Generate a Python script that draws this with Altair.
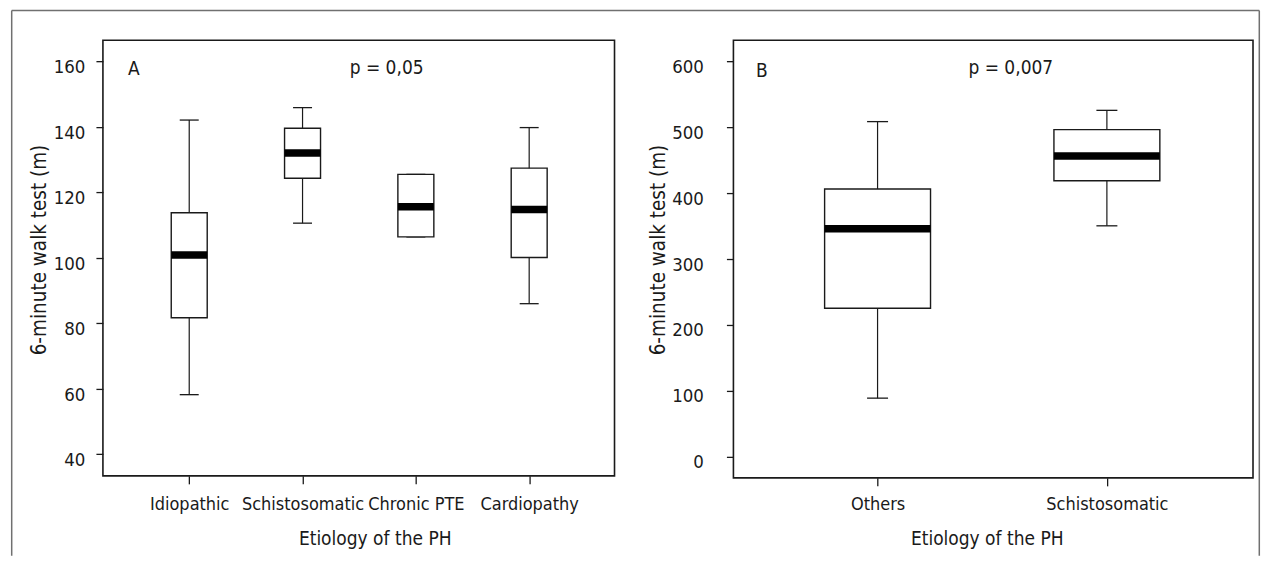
import json
import altair as alt
import pandas as pd

# ---------------- data ----------------
# Panel A
cats_a = ["Idiopathic", "Schistosomatic", "Chronic PTE", "Cardiopathy"]
low_a = [58.2, 110.6, 106.4, 86.0]
q1_a = [81.7, 124.3, 106.4, 100.1]
med_a = [100.9, 132.0, 115.6, 114.8]
q3_a = [113.8, 139.6, 125.5, 127.4]
high_a = [142.1, 145.9, 125.5, 139.8]
yticks_a = [40, 60, 80, 100, 120, 140, 160]

# Panel B
cats_b = ["Others", "Schistosomatic"]
low_b = [88.8, 350.4]
q1_b = [225.3, 418.9]
med_b = [345.9, 456.5]
q3_b = [406.2, 496.4]
high_b = [508.6, 525.7]
yticks_b = [0, 100, 200, 300, 400, 500, 600]

letters = ["A", "B"]
p_texts = ["p = 0,05", "p = 0,007"]
x_title = "Etiology of the PH"
y_title = "6-minute walk test (m)"

# annotation anchor points (data coordinates)
letter_xy_a = (0.46, 155.9)
p_xy_a = (2.742, 156.3)
letter_xy_b = (0.47, 575.8)
p_xy_b = (1.581, 580.8)

# ---------------- style ----------------
FONT = "DejaVu Sans Condensed, Liberation Sans Narrow, Arial Narrow, Liberation Sans, sans-serif"
INK = "#1a1a1a"


def make_panel(cats, low, q1, med, q3, high, yticks, letter, ptext, letter_xy, p_xy,
               width, height, xdom, ydom, box_w, cap_w,
               ylab_pad, ylab_off, ytitle_x, xlab_pad, xtitle_x, xtitle_y,
               border=None):
    n = len(cats)
    df = pd.DataFrame({
        "pos": list(range(1, n + 1)),
        "cat": cats,
        "low": low, "q1": q1, "med": med, "q3": q3, "high": high,
    })
    label_expr = json.dumps([""] + cats) + "[datum.value]"

    xaxis = alt.Axis(
        values=list(range(1, n + 1)), labelExpr=label_expr, title=x_title,
        grid=False, domain=False, tickSize=8, tickColor=INK, tickWidth=1.3,
        labelAngle=0, labelFont=FONT, labelFontSize=18, labelColor=INK,
        labelBaseline="alphabetic", labelPadding=xlab_pad, labelFlush=False,
        labelOverlap=False,
        titleFont=FONT, titleFontSize=19, titleFontWeight="normal", titleColor=INK,
        titleX=xtitle_x, titleY=xtitle_y, titleBaseline="alphabetic", titleAlign="center",
    )
    yaxis = alt.Axis(
        values=yticks, title=y_title, grid=False, domain=False,
        tickSize=7, tickColor=INK, tickWidth=1.3,
        labelFont=FONT, labelFontSize=18.5, labelColor=INK,
        labelBaseline="alphabetic", labelOffset=ylab_off, labelPadding=ylab_pad,
        labelFlush=False, labelOverlap=False,
        titleFont=FONT, titleFontSize=20.5, titleFontWeight="normal", titleColor=INK,
        titleX=ytitle_x, titleY=209.5, titleAngle=270, titleAlign="center",
        titleBaseline="bottom",
    )
    xs = alt.Scale(domain=xdom, nice=False, zero=False)
    ys = alt.Scale(domain=ydom, nice=False, zero=False)

    def X(field="pos"):
        return alt.X(f"{field}:Q", scale=xs, axis=xaxis)

    def Y(field):
        return alt.Y(f"{field}:Q", scale=ys, axis=yaxis)

    base = alt.Chart(df)
    whisk = base.mark_rule(color=INK, strokeWidth=1.2).encode(x=X(), y=Y("low"), y2="high:Q")
    cap_lo = base.mark_tick(orient="horizontal", size=cap_w, thickness=1.3, color=INK,
                            opacity=1).encode(x=X(), y=Y("low"))
    cap_hi = base.mark_tick(orient="horizontal", size=cap_w, thickness=1.3, color=INK,
                            opacity=1).encode(x=X(), y=Y("high"))
    box = base.mark_bar(size=box_w, fill="white", stroke=INK, strokeWidth=1.4, opacity=1).encode(
        x=X(), y=Y("q1"), y2="q3:Q")
    median = base.mark_tick(orient="horizontal", size=box_w, thickness=7.5, color="black",
                            opacity=1).encode(x=X(), y=Y("med"))

    ann = pd.DataFrame({
        "ax": [letter_xy[0], p_xy[0]],
        "ay": [letter_xy[1], p_xy[1]],
        "txt": [letter, ptext],
    })
    t_letter = alt.Chart(ann.iloc[[0]]).mark_text(
        align="left", baseline="alphabetic", font=FONT, fontSize=19, color=INK
    ).encode(x=X("ax"), y=Y("ay"), text="txt:N")
    t_p = alt.Chart(ann.iloc[[1]]).mark_text(
        align="center", baseline="alphabetic", font=FONT, fontSize=19, color=INK
    ).encode(x=X("ax"), y=Y("ay"), text="txt:N")

    layers = [whisk, cap_lo, cap_hi, box, median, t_letter, t_p]

    if border is not None:
        one = pd.DataFrame({"k": [0]})
        bl, bt, br, bb = border
        bcol = "#707070"
        top = alt.Chart(one).mark_rule(color=bcol, strokeWidth=1.5).encode(
            x=alt.value(bl), x2=alt.value(br), y=alt.value(bt))
        left = alt.Chart(one).mark_rule(color=bcol, strokeWidth=1.5).encode(
            x=alt.value(bl), y=alt.value(bt), y2=alt.value(bb))
        right = alt.Chart(one).mark_rule(color=bcol, strokeWidth=1.5).encode(
            x=alt.value(br), y=alt.value(bt), y2=alt.value(bb))
        layers = [top, left, right] + layers

    return alt.layer(*layers).properties(width=width, height=height)


panel_a = make_panel(
    cats_a, low_a, q1_a, med_a, q3_a, high_a, yticks_a, letters[0], p_texts[0],
    letter_xy_a, p_xy_a,
    width=512, height=436, xdom=[0.2825, 4.709], ydom=[33.4, 166.5],
    box_w=36, cap_w=19,
    ylab_pad=11, ylab_off=11.5, ytitle_x=-53, xlab_pad=25.5, xtitle_x=272, xtitle_y=68.5,
    border=(-91.3, -29.8, 1157.3, 516.0),
)

panel_b = make_panel(
    cats_b, low_b, q1_b, med_b, q3_b, high_b, yticks_b, letters[1], p_texts[1],
    letter_xy_b, p_xy_b,
    width=520, height=438, xdom=[0.3932, 2.6154], ydom=[-32.2, 632.2],
    box_w=106, cap_w=21,
    ylab_pad=23, ylab_off=11, ytitle_x=-65, xlab_pad=23.5, xtitle_x=253.5, xtitle_y=66.5,
)

chart = alt.hconcat(panel_a, panel_b, spacing=119, bounds="flush").properties(
    padding={"left": 2, "top": 0, "right": 0, "bottom": 0},
    background="white",
).configure_view(stroke=INK, strokeWidth=1.6)

chart.save("out.html", embed_options={"renderer": "svg", "actions": False})
